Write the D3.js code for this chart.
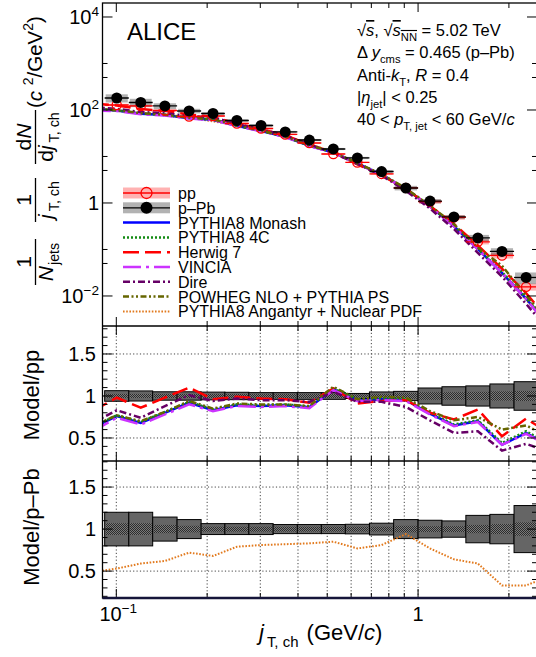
<!DOCTYPE html>
<html>
<head>
<meta charset="utf-8">
<title>jT,ch distributions</title>
<script src="https://cdn.jsdelivr.net/npm/d3@7"></script>
<style>
  body { margin: 0; background: #fff; }
  svg { display: block; font-family: "Liberation Sans", Arial, Helvetica, sans-serif; }
</style>
</head>
<body>
<div id="chart"></div>
<script type="text/javascript">
// jT,ch bin edges (GeV/c)
var jtEdges = [0.0915, 0.110, 0.132, 0.159, 0.191, 0.229, 0.275, 0.331, 0.398, 0.478,
               0.574, 0.690, 0.830, 1.0, 1.20, 1.44, 1.73, 2.08, 2.50];

// measured spectra, 1/Njets 1/jT dN/djT
var ppVal  = [128, 122, 97.6, 72.5, 74.3, 51.2, 40.0, 29.8, 19.5, 11.3, 7.44, 4.22, 2.11, 1.07, 0.49, 0.146, 0.0744, 0.0157];
var pPbVal = [181, 145, 122, 95.2, 84.1, 59.4, 46.4, 33.7, 22.6, 14.5, 9.29, 4.75, 2.10, 1.10, 0.50, 0.177, 0.0906, 0.0250];

// relative systematic uncertainties (outer boxes) and inner bands
var ppSys    = [0.063, 0.06, 0.05, 0.05, 0.046, 0.044, 0.04, 0.04, 0.04, 0.04, 0.03, 0.048, 0.055, 0.095, 0.11, 0.12, 0.143, 0.17];
var ppInner  = [0.025, 0.025, 0.025, 0.025, 0.025, 0.025, 0.025, 0.025, 0.025, 0.025, 0.02, 0.025, 0.035, 0.045, 0.045, 0.05, 0.055, 0.06];
var pPbSys   = [0.20, 0.20, 0.143, 0.113, 0.065, 0.065, 0.065, 0.054, 0.054, 0.054, 0.057, 0.07, 0.113, 0.105, 0.097, 0.163, 0.175, 0.28];
var pPbInner = [0.07, 0.07, 0.05, 0.04, 0.03, 0.03, 0.03, 0.03, 0.03, 0.03, 0.03, 0.03, 0.04, 0.035, 0.035, 0.05, 0.06, 0.08];

// model points (one bin each side outside the measured range)
var jtModel = [0.0836, 0.1003, 0.1205, 0.1449, 0.1743, 0.2091, 0.2510, 0.3017, 0.3630, 0.4362,
               0.5238, 0.6293, 0.7568, 0.911, 1.095, 1.315, 1.578, 1.897, 2.28, 2.74];
// reference level used outside the measured range [low, high]
var ppOut  = [169, 0.0051];
var pPbOut = [214, 0.00466];

// Model / pp
var monash  = [0.62, 0.76, 0.68, 0.80, 0.92, 0.83, 0.89, 0.88, 0.89, 0.865, 1.08, 0.95, 0.96, 0.95, 0.79, 0.65, 0.70, 0.42, 0.56, 0.40];
var py4C    = [0.63, 0.77, 0.69, 0.81, 0.93, 0.84, 0.90, 0.89, 0.90, 0.875, 1.09, 0.96, 0.97, 0.96, 0.80, 0.66, 0.71, 0.44, 0.58, 0.42];
var herwig  = [0.82, 0.98, 0.86, 0.98, 1.10, 0.96, 0.99, 0.97, 0.96, 0.92, 1.09, 0.91, 0.94, 0.95, 0.80, 0.72, 0.84, 0.52, 0.73, 0.55];
var vincia  = [0.58, 0.74, 0.66, 0.78, 0.90, 0.82, 0.88, 0.87, 0.88, 0.855, 1.07, 0.94, 0.95, 0.94, 0.78, 0.64, 0.69, 0.42, 0.55, 0.40];
var dire    = [0.68, 0.83, 0.74, 0.88, 1.01, 0.94, 0.97, 0.95, 0.95, 0.93, 1.05, 0.93, 0.93, 0.87, 0.71, 0.56, 0.58, 0.35, 0.43, 0.33];
var powheg  = [0.64, 0.77, 0.70, 0.81, 0.94, 0.85, 0.91, 0.90, 0.90, 0.88, 1.11, 0.96, 0.99, 0.98, 0.82, 0.71, 0.75, 0.60, 0.65, 0.50];
// Model / p-Pb
var angantyr = [0.49, 0.53, 0.59, 0.62, 0.72, 0.68, 0.79, 0.81, 0.82, 0.83, 0.85, 0.77, 0.81, 0.94, 0.77, 0.64, 0.59, 0.33, 0.33, 0.44];

var models = [
  {name: "PYTHIA8 Angantyr + Nuclear PDF", r: angantyr, ref: "pPb"},
  {name: "PYTHIA8 Monash", r: monash, ref: "pp"},
  {name: "PYTHIA8 4C", r: py4C, ref: "pp"},
  {name: "Herwig 7", r: herwig, ref: "pp"},
  {name: "VINCIA", r: vincia, ref: "pp"},
  {name: "Dire", r: dire, ref: "pp"},
  {name: "POWHEG NLO + PYTHIA PS", r: powheg, ref: "pp"}
];
var styles = {
  "PYTHIA8 Monash": {c: "#0000ff", d: null, w: 2.5},
  "PYTHIA8 4C": {c: "#138a13", d: "2,2", w: 2.5},
  "Herwig 7": {c: "#ff0000", d: "16,6", w: 2.5},
  "VINCIA": {c: "#cc33ff", d: "18,5,3,5", w: 2.5},
  "Dire": {c: "#660066", d: "7,3,2,3", w: 2.5},
  "POWHEG NLO + PYTHIA PS": {c: "#666600", d: "6,2.5,2,2.5,2,2.5", w: 2.5},
  "PYTHIA8 Angantyr + Nuclear PDF": {c: "#e27a1e", d: "1.6,1.6", w: 2}
};
var legendOrder = ["PYTHIA8 Monash", "PYTHIA8 4C", "Herwig 7", "VINCIA", "Dire",
                   "POWHEG NLO + PYTHIA PS", "PYTHIA8 Angantyr + Nuclear PDF"];

var W = 536, H = 657,
    xl = 102.5, xr = 537;

var svg = d3.select("#chart").append("svg")
    .attr("width", W)
    .attr("height", H);

var x = d3.scaleLog().domain([0.09, 2.478]).range([xl, xr]),
    yTop = d3.scaleLog().domain([2.26e-3, 2.0e4]).range([326, 3]),
    yMid = d3.scaleLinear().domain([0.226, 1.833]).range([461, 326]),
    yBot = d3.scaleLinear().domain([0.18, 1.81]).range([598, 461]);

var defs = svg.append("defs");
[["cTop", 3, 326], ["cMid", 326, 461], ["cBot", 461, 598]].forEach(function(c) {
  defs.append("clipPath").attr("id", c[0])
    .append("rect").attr("x", xl).attr("y", c[1]).attr("width", xr - xl).attr("height", c[2] - c[1]);
});
var pat = defs.append("pattern").attr("id", "chk")
    .attr("width", 2).attr("height", 2).attr("patternUnits", "userSpaceOnUse");
pat.append("rect").attr("width", 2).attr("height", 2).attr("fill", "#7a7a7a");
pat.append("rect").attr("width", 1).attr("height", 1).attr("fill", "#2c2c2c");
pat.append("rect").attr("x", 1).attr("y", 1).attr("width", 1).attr("height", 1).attr("fill", "#2c2c2c");

var bins = ppVal.map(function(v, i) {
  return {lo: jtEdges[i], hi: jtEdges[i + 1], c: Math.sqrt(jtEdges[i] * jtEdges[i + 1]),
          pp: v, pPb: pPbVal[i], ppSys: ppSys[i], pPbSys: pPbSys[i],
          ppIn: ppInner[i], pPbIn: pPbInner[i]};
});

// rich text helper: parts = [{t, it, sub, sup, ol}]
function rich(sel, parts, size) {
  var shift = 0;
  parts.forEach(function(p) {
    var target = p.sub ? size * 0.3 : (p.sup ? -size * 0.42 : 0);
    var ts = sel.append("tspan").text(p.t).attr("dy", target - shift);
    if (p.sub || p.sup) ts.style("font-size", (size * 0.68) + "px");
    if (p.it) ts.style("font-style", "italic");
    if (p.ol) ts.style("text-decoration", "overline");
    if (p.dx) ts.attr("dx", p.dx);
    shift = target;
  });
  return sel;
}

var line = d3.line().x(function(d) { return x(d.j); });

// ---------- grids in ratio panels ----------
var xGridVals = [0.1, 0.2, 0.3, 0.4, 0.5, 0.6, 0.7, 0.8, 0.9, 1, 2];
[[yMid, 326, 461], [yBot, 461, 598]].forEach(function(p) {
  var g = svg.append("g").attr("stroke", "#444").attr("stroke-width", 1).attr("stroke-dasharray", "1.2,2.2");
  g.selectAll(null).data(xGridVals).enter().append("line")
    .attr("x1", function(d) { return x(d); }).attr("x2", function(d) { return x(d); })
    .attr("y1", p[1]).attr("y2", p[2]);
  g.selectAll(null).data([0.5, 1, 1.5]).enter().append("line")
    .attr("x1", xl).attr("x2", xr)
    .attr("y1", function(d) { return p[0](d); }).attr("y2", function(d) { return p[0](d); });
});

// ---------- top panel ----------
var gTop = svg.append("g").attr("clip-path", "url(#cTop)");

gTop.selectAll("rect.ppbox").data(bins).enter().append("rect")
    .attr("x", function(d) { return x(d.lo) + 1; })
    .attr("width", function(d) { return x(d.hi) - x(d.lo) - 2; })
    .attr("y", function(d) { return yTop(d.pp * (1 + d.ppSys)); })
    .attr("height", function(d) { return yTop(d.pp * (1 - d.ppSys)) - yTop(d.pp * (1 + d.ppSys)); })
    .style("fill", "#ff0000").style("fill-opacity", 0.3);
gTop.selectAll("rect.pbbox").data(bins).enter().append("rect")
    .attr("x", function(d) { return x(d.lo) + 1; })
    .attr("width", function(d) { return x(d.hi) - x(d.lo) - 2; })
    .attr("y", function(d) { return yTop(d.pPb * (1 + d.pPbSys)); })
    .attr("height", function(d) { return yTop(d.pPb * (1 - d.pPbSys)) - yTop(d.pPb * (1 + d.pPbSys)); })
    .style("fill", "#000").style("fill-opacity", 0.3);

models.forEach(function(m) {
  var ref = m.ref == "pp" ? [ppOut[0]].concat(ppVal, [ppOut[1]]) : [pPbOut[0]].concat(pPbVal, [pPbOut[1]]);
  var pts = m.r.map(function(r, i) { return {j: jtModel[i], v: r * ref[i]}; });
  var s = styles[m.name];
  gTop.append("path").datum(pts)
    .attr("d", line.y(function(d) { return yTop(d.v); }))
    .style("fill", "none").style("stroke", s.c).style("stroke-width", s.w)
    .style("stroke-dasharray", s.d);
});

gTop.selectAll("line.ppbar").data(bins).enter().append("line")
    .attr("x1", function(d) { return x(d.lo); }).attr("x2", function(d) { return x(d.hi); })
    .attr("y1", function(d) { return yTop(d.pp); }).attr("y2", function(d) { return yTop(d.pp); })
    .style("stroke", "#ff0000").style("stroke-width", 1.3);
gTop.selectAll("circle.pp").data(bins).enter().append("circle")
    .attr("cx", function(d) { return x(d.c); }).attr("cy", function(d) { return yTop(d.pp); })
    .attr("r", 4.6)
    .style("fill", "none").style("stroke", "#ff0000").style("stroke-width", 1.3);
gTop.selectAll("line.pbbar").data(bins).enter().append("line")
    .attr("x1", function(d) { return x(d.lo); }).attr("x2", function(d) { return x(d.hi); })
    .attr("y1", function(d) { return yTop(d.pPb); }).attr("y2", function(d) { return yTop(d.pPb); })
    .style("stroke", "#000").style("stroke-width", 1.3);
gTop.selectAll("circle.pb").data(bins).enter().append("circle")
    .attr("cx", function(d) { return x(d.c); }).attr("cy", function(d) { return yTop(d.pPb); })
    .attr("r", 5.5)
    .style("fill", "#000");

// ---------- ratio panels ----------
function ratioBoxes(g, y, sysKey, inKey) {
  g.selectAll(null).data(bins).enter().append("rect")
    .attr("x", function(d) { return x(d.lo); })
    .attr("width", function(d) { return x(d.hi) - x(d.lo); })
    .attr("y", function(d) { return y(1 + d[sysKey]); })
    .attr("height", function(d) { return y(1 - d[sysKey]) - y(1 + d[sysKey]); })
    .style("fill", "#656565").style("stroke", "#000").style("stroke-width", 1);
  g.selectAll(null).data(bins).enter().append("rect")
    .attr("x", function(d) { return x(d.lo) + 1; })
    .attr("width", function(d) { return x(d.hi) - x(d.lo) - 2; })
    .attr("y", function(d) { return y(1 + d[inKey]); })
    .attr("height", function(d) { return y(1 - d[inKey]) - y(1 + d[inKey]); })
    .style("fill", "url(#chk)");
}

var gMid = svg.append("g").attr("clip-path", "url(#cMid)");
ratioBoxes(gMid, yMid, "ppSys", "ppIn");
models.filter(function(m) { return m.ref == "pp"; }).forEach(function(m) {
  var s = styles[m.name];
  gMid.append("path").datum(m.r.map(function(r, i) { return {j: jtModel[i], v: r}; }))
    .attr("d", line.y(function(d) { return yMid(d.v); }))
    .style("fill", "none").style("stroke", s.c).style("stroke-width", s.w)
    .style("stroke-dasharray", s.d);
});

var gBot = svg.append("g").attr("clip-path", "url(#cBot)");
ratioBoxes(gBot, yBot, "pPbSys", "pPbIn");
models.filter(function(m) { return m.ref == "pPb"; }).forEach(function(m) {
  var s = styles[m.name];
  gBot.append("path").datum(m.r.map(function(r, i) { return {j: jtModel[i], v: r}; }))
    .attr("d", line.y(function(d) { return yBot(d.v); }))
    .style("fill", "none").style("stroke", s.c).style("stroke-width", s.w)
    .style("stroke-dasharray", s.d);
});

// ---------- frames and ticks ----------
var axes = svg.append("g").style("stroke", "#000").style("stroke-width", 1);
var xTickVals = [0.1, 0.2, 0.3, 0.4, 0.5, 0.6, 0.7, 0.8, 0.9, 1, 2];
function xTicks(y0, y1) {
  axes.selectAll(null).data(xTickVals).enter().append("line")
    .attr("x1", function(d) { return x(d); }).attr("x2", function(d) { return x(d); })
    .attr("y1", y0).attr("y2", function(d) { return y0 + (d == 0.1 || d == 1 ? 9 : 5); });
  axes.selectAll(null).data(xTickVals).enter().append("line")
    .attr("x1", function(d) { return x(d); }).attr("x2", function(d) { return x(d); })
    .attr("y1", y1).attr("y2", function(d) { return y1 - (d == 0.1 || d == 1 ? 9 : 5); });
}
function yTicks(y, vals, len) {
  axes.selectAll(null).data(vals).enter().append("line")
    .attr("x1", xl).attr("x2", xl + len)
    .attr("y1", function(d) { return y(d); }).attr("y2", function(d) { return y(d); });
  axes.selectAll(null).data(vals).enter().append("line")
    .attr("x1", xr - len).attr("x2", xr)
    .attr("y1", function(d) { return y(d); }).attr("y2", function(d) { return y(d); });
}
xTicks(3, 326); xTicks(326, 461); xTicks(461, 598);
yTicks(yTop, [1e-2, 1, 1e2, 1e4], 10);
yTicks(yTop, [5e-2, 1e-1, 5, 10, 5e2, 1e3], 5);
var rMajor = [0.5, 1, 1.5];
var rMinor = [0.2, 0.3, 0.4, 0.6, 0.7, 0.8, 0.9, 1.1, 1.2, 1.3, 1.4, 1.6, 1.7, 1.8];
yTicks(yMid, rMajor, 10);
yTicks(yMid, rMinor.filter(function(v) { return v > 0.226; }), 5);
yTicks(yBot, rMajor, 10);
yTicks(yBot, rMinor, 5);

axes.append("rect").attr("x", xl).attr("y", 3).attr("width", xr - xl).attr("height", 595)
    .style("fill", "none").style("stroke-width", 1.3);
axes.append("line").attr("x1", xl).attr("x2", xr).attr("y1", 326).attr("y2", 326).style("stroke-width", 1.6);
axes.append("line").attr("x1", xl).attr("x2", xr).attr("y1", 461).attr("y2", 461).style("stroke-width", 1.6);
axes.append("line").attr("x1", xl).attr("x2", xr).attr("y1", 598).attr("y2", 598)
    .style("stroke", "#15153a").style("stroke-width", 2.4);

// ---------- tick labels ----------
var lab = svg.append("g").style("font-size", "20px").style("fill", "#000");
var topLabels = [[1e4, [{t: "10"}, {t: "4", sup: 1}]], [1e2, [{t: "10"}, {t: "2", sup: 1}]],
                 [1, [{t: "1"}]], [1e-2, [{t: "10"}, {t: "\u22122", sup: 1}]]];
topLabels.forEach(function(l) {
  rich(lab.append("text").attr("x", 99).attr("y", yTop(l[0]) + 7).attr("text-anchor", "end"), l[1], 20);
});
[[yMid, rMajor], [yBot, rMajor]].forEach(function(p) {
  lab.selectAll(null).data(p[1]).enter().append("text")
    .attr("x", 96).attr("y", function(d) { return p[0](d) + 7; })
    .attr("text-anchor", "end")
    .text(function(d) { return d; });
});
rich(lab.append("text").attr("x", x(0.1) + 2).attr("y", 621).attr("text-anchor", "middle"),
     [{t: "10"}, {t: "\u22121", sup: 1}], 20);
lab.append("text").attr("x", x(1)).attr("y", 621).attr("text-anchor", "middle").text("1");

// axis titles
rich(lab.append("text").attr("x", 259).attr("y", 640).style("font-size", "22px"),
     [{t: "j", it: 1}, {t: "T, ch", sub: 1, dx: 3}, {t: " (GeV/", dx: 2}, {t: "c", it: 1}, {t: ")"}], 22);

var rot = lab.append("g").attr("transform", "rotate(-90)");
rot.append("text").attr("x", -395).attr("y", 39).attr("text-anchor", "middle")
    .style("font-size", "22px").text("Model/pp");
rot.append("text").attr("x", -527).attr("y", 39).attr("text-anchor", "middle")
    .style("font-size", "22px").text("Model/p\u2013Pb");

var fs = 21;
var fracs = [
  {c: 262, w: 46, num: [{t: "1"}], den: [{t: "N", it: 1}, {t: "jets", sub: 1, dx: 1}]},
  {c: 200, w: 44, num: [{t: "1"}], den: [{t: "j", it: 1}, {t: "T, ch", sub: 1, dx: 3}]},
  {c: 137, w: 54, num: [{t: "d"}, {t: "N", it: 1}], den: [{t: "d"}, {t: "j", it: 1}, {t: "T, ch", sub: 1, dx: 3}]}
];
fracs.forEach(function(f) {
  rich(rot.append("text").attr("x", -f.c).attr("y", 31).attr("text-anchor", "middle").style("font-size", fs + "px"), f.num, fs);
  rich(rot.append("text").attr("x", -f.c).attr("y", 52.5).attr("text-anchor", "middle").style("font-size", fs + "px"), f.den, fs);
  rot.append("line").attr("x1", -f.c - f.w / 2).attr("x2", -f.c + f.w / 2).attr("y1", 35.5).attr("y2", 35.5)
    .style("stroke", "#000").style("stroke-width", 1.3);
});
rich(rot.append("text").attr("x", -108).attr("y", 42).style("font-size", "20.5px"),
     [{t: "("}, {t: "c", it: 1}, {t: " "}, {t: "2", sup: 1}, {t: "/GeV"}, {t: "2", sup: 1}, {t: ")"}], 20.5);

// ---------- annotations ----------
svg.append("text").attr("x", 127).attr("y", 40).style("font-size", "24px").text("ALICE");

var info = svg.append("g").style("font-size", "16.5px");
var infoLines = [
  [{t: "\u221A"}, {t: "s", it: 1, ol: 1}, {t: ", \u221A"}, {t: "s", it: 1, ol: 1}, {t: "NN", sub: 1, ol: 1}, {t: " = 5.02 TeV"}],
  [{t: "\u0394 "}, {t: "y", it: 1}, {t: "cms", sub: 1}, {t: " = 0.465 (p\u2013Pb)"}],
  [{t: "Anti-"}, {t: "k", it: 1}, {t: "T", sub: 1}, {t: ", "}, {t: "R", it: 1}, {t: " = 0.4"}],
  [{t: "|"}, {t: "\u03B7", it: 1}, {t: "jet", sub: 1}, {t: "| < 0.25"}],
  [{t: "40 < "}, {t: "p", it: 1}, {t: "T, jet", sub: 1}, {t: " < 60 GeV/"}, {t: "c", it: 1}]
];
infoLines.forEach(function(l, i) {
  rich(info.append("text").attr("x", 357).attr("y", 36 + i * 22.3), l, 16.5);
});

// ---------- legend ----------
var leg = svg.append("g").style("font-size", "16px");
var rowY = function(i) { return 193 + i * 14.8; };
var lx0 = 123, lx1 = 170;
leg.append("rect").attr("x", lx0).attr("y", rowY(0) - 5.5).attr("width", lx1 - lx0).attr("height", 11)
    .style("fill", "#ff0000").style("fill-opacity", 0.3);
leg.append("line").attr("x1", lx0).attr("x2", lx1).attr("y1", rowY(0)).attr("y2", rowY(0))
    .style("stroke", "#ff0000").style("stroke-width", 1.3);
leg.append("circle").attr("cx", (lx0 + lx1) / 2).attr("cy", rowY(0)).attr("r", 5.5)
    .style("fill", "none").style("stroke", "#ff0000").style("stroke-width", 1.3);
leg.append("rect").attr("x", lx0).attr("y", rowY(1) - 5.5).attr("width", lx1 - lx0).attr("height", 11)
    .style("fill", "#000").style("fill-opacity", 0.3);
leg.append("line").attr("x1", lx0).attr("x2", lx1).attr("y1", rowY(1)).attr("y2", rowY(1))
    .style("stroke", "#000").style("stroke-width", 1.3);
leg.append("circle").attr("cx", (lx0 + lx1) / 2).attr("cy", rowY(1)).attr("r", 6)
    .style("fill", "#000");
leg.selectAll("line.m").data(legendOrder).enter().append("line")
    .attr("x1", lx0).attr("x2", lx1)
    .attr("y1", function(d, i) { return rowY(i + 2); }).attr("y2", function(d, i) { return rowY(i + 2); })
    .style("stroke", function(d) { return styles[d].c; })
    .style("stroke-width", function(d) { return styles[d].w; })
    .style("stroke-dasharray", function(d) { return styles[d].d; });
leg.selectAll("text").data(["pp", "p\u2013Pb"].concat(legendOrder)).enter().append("text")
    .attr("x", 178).attr("y", function(d, i) { return rowY(i) + 6; })
    .text(function(d) { return d; });
</script>
</body>
</html>
